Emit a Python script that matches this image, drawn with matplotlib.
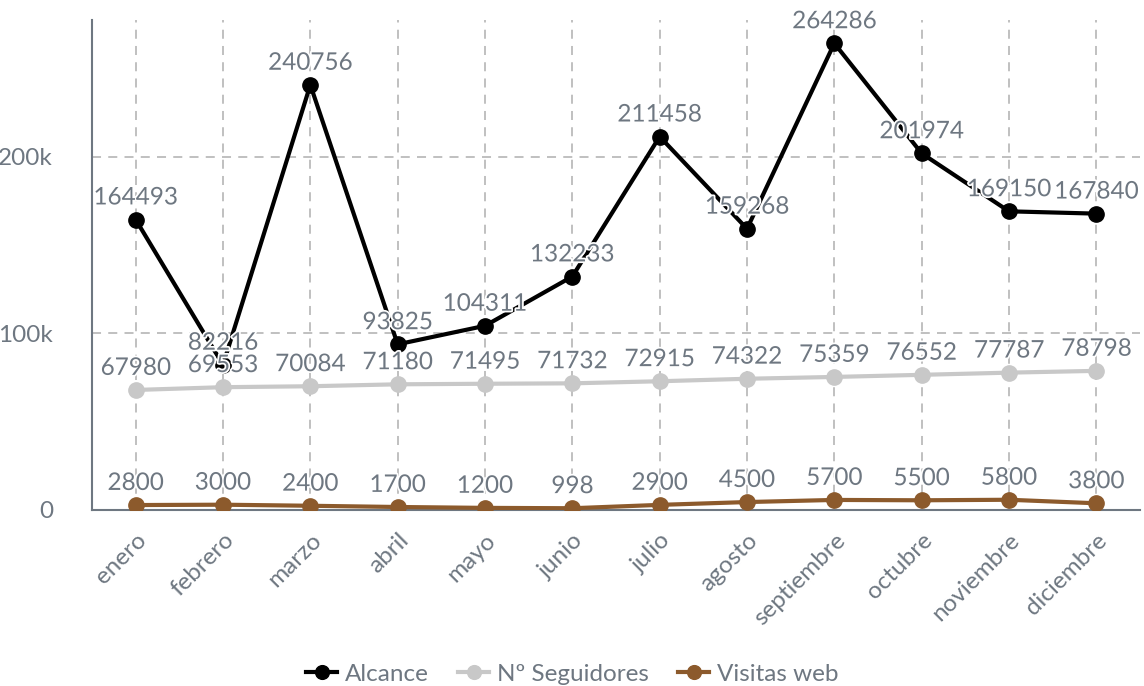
import matplotlib
matplotlib.use("Agg")
import matplotlib.pyplot as plt
import matplotlib.patheffects as pe

plt.rcParams['font.family'] = ['Lato', 'DejaVu Sans']

months = ["enero", "febrero", "marzo", "abril", "mayo", "junio", "julio",
          "agosto", "septiembre", "octubre", "noviembre", "diciembre"]
alcance = [164493, 82216, 240756, 93825, 104311, 132233, 211458, 159268,
           264286, 201974, 169150, 167840]
seguidores = [67980, 69553, 70084, 71180, 71495, 71732, 72915, 74322,
              75359, 76552, 77787, 78798]
visitas = [2800, 3000, 2400, 1700, 1200, 998, 2900, 4500, 5700, 5500, 5800, 3800]
yticks = [0, 100000, 200000]
ytick_labels = ["0", "100k", "200k"]

series = [
    ("Alcance", alcance, "#000000"),
    ("Nº Seguidores", seguidores, "#c8c8c8"),
    ("Visitas web", visitas, "#8c5a2c"),
]

text_color = "#6e7781"
fs = 17.5
fig = plt.figure(figsize=(11.44, 6.86), dpi=100)
ax = fig.add_axes([92/1144, 1 - 510/686, (1140-92)/1144, (510-20)/686])

x = list(range(len(months)))
for name, vals, col in series:
    ax.plot(x, vals, color=col, lw=3, marker='o', markersize=11, label=name,
            zorder=3, solid_joinstyle='miter')
for name, vals, col in series:
    for xi, v in zip(x, vals):
        ax.annotate(str(v), (xi, v), xytext=(0, 8), textcoords='offset points',
                    ha='center', va='bottom', fontsize=fs, color=text_color,
                    zorder=5,
                    path_effects=[pe.withStroke(linewidth=2.5, foreground='white')])

ax.set_xlim(-0.5, len(months) - 0.5)
ax.set_ylim(0, 277500)
ax.set_xticks(x)
ax.set_xticklabels(months, rotation=45, ha='right', rotation_mode='anchor',
                   fontsize=fs, color=text_color)
ax.set_yticks(yticks)
ax.set_yticklabels(ytick_labels, fontsize=fs, color=text_color)
ax.tick_params(axis='both', length=0)
ax.tick_params(axis='y', pad=28)
ax.tick_params(axis='x', pad=14)

ax.grid(True, axis='both', color='#bbbbbb', linestyle=(0, (5, 4)), lw=1.3, zorder=0)
for s in ['top', 'right']:
    ax.spines[s].set_visible(False)
for s in ['left', 'bottom']:
    ax.spines[s].set_color('#6e7781')
    ax.spines[s].set_linewidth(1.5)

leg = fig.legend(loc='center', bbox_to_anchor=(0.5, 1 - 674/686), ncol=3,
                 frameon=False, fontsize=fs, labelcolor=text_color,
                 handlelength=1.3, handletextpad=0.3, columnspacing=1.2,
                 markerscale=0.9)

fig.savefig("out.png", dpi=100)
